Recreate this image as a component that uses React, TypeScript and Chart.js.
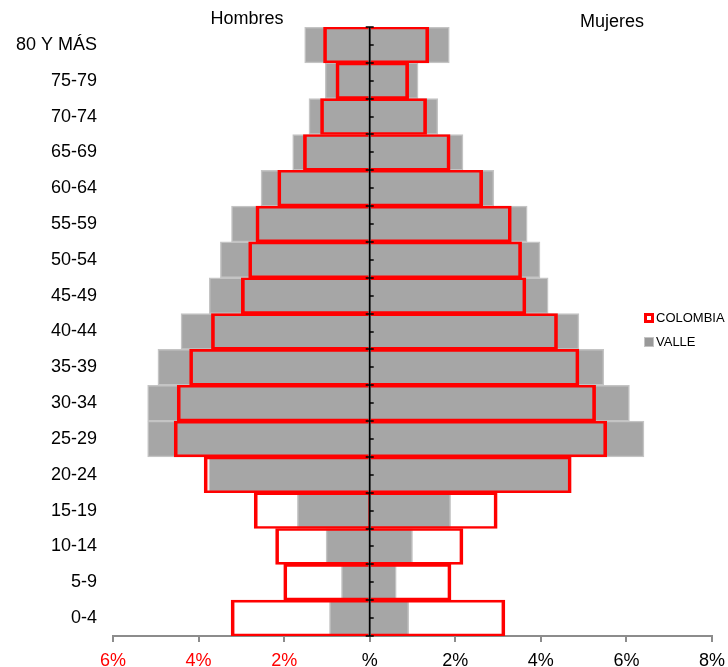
import React, { useEffect, useRef } from "react";
import { Chart, registerables } from "chart.js";

Chart.register(...registerables);

const ageGroups = [
  "80 Y MÁS", "75-79", "70-74", "65-69", "60-64", "55-59", "50-54", "45-49",
  "40-44", "35-39", "30-34", "25-29", "20-24", "15-19", "10-14", "5-9", "0-4",
];
const colombiaHombres = [1.08, 0.79, 1.15, 1.55, 2.15, 2.66, 2.83, 3.0, 3.7, 4.21, 4.5, 4.57, 3.87, 2.7, 2.2, 2.01, 3.24];
const colombiaMujeres = [1.38, 0.91, 1.33, 1.88, 2.64, 3.31, 3.55, 3.65, 4.39, 4.89, 5.28, 5.54, 4.71, 2.98, 2.18, 1.9, 3.16];
const valleHombres = [1.52, 1.04, 1.42, 1.8, 2.54, 3.23, 3.49, 3.75, 4.41, 4.95, 5.19, 5.19, 3.76, 1.69, 1.02, 0.66, 0.94];
const valleMujeres = [1.86, 1.13, 1.59, 2.18, 2.9, 3.68, 3.98, 4.17, 4.89, 5.47, 6.07, 6.41, 4.66, 1.89, 1.0, 0.62, 0.91];
const xTickValues = [-6, -4, -2, 0, 2, 4, 6, 8];
const xTickLabels = ["6%", "4%", "2%", "%", "2%", "4%", "6%", "8%"];
const seriesNames = ["COLOMBIA", "VALLE"];
const sideTitles = ["Hombres", "Mujeres"];

const FONT = "'Liberation Sans', Arial, sans-serif";
const RED = "#ff0000";
const GRAY = "#a6a6a6";
const GRAY_BORDER = "#c4c4c4";

const overlayPlugin = {
  id: "overlay",
  afterDatasetsDraw(chart: any) {
    const { ctx, chartArea, scales } = chart;
    const x = scales.x;
    const y = scales.y;
    const x0 = x.getPixelForValue(0);
    ctx.save();
    ctx.strokeStyle = "#000";
    ctx.lineWidth = 2;
    ctx.beginPath();
    ctx.moveTo(x0, chartArea.top);
    ctx.lineTo(x0, chartArea.bottom);
    ctx.stroke();
    ctx.lineWidth = 1.5;
    for (let i = 0; i <= ageGroups.length; i++) {
      const yb = Math.round(y.getPixelForValue(i - 0.5));
      ctx.beginPath();
      ctx.moveTo(x0 - 4, yb);
      ctx.lineTo(x0 + 4, yb);
      ctx.stroke();
      if (i < ageGroups.length) {
        const yc = Math.round(y.getPixelForValue(i));
        ctx.beginPath();
        ctx.moveTo(x0, yc);
        ctx.lineTo(x0 + 4, yc);
        ctx.stroke();
      }
    }
    ctx.restore();
  },
  afterDraw(chart: any) {
    const { ctx } = chart;
    ctx.save();
    ctx.fillStyle = "#000";
    ctx.font = `18px ${FONT}`;
    ctx.textAlign = "center";
    ctx.textBaseline = "middle";
    ctx.fillText(sideTitles[0], 247, 19);
    ctx.fillText(sideTitles[1], 612, 22);
    // legend
    ctx.fillStyle = RED;
    ctx.fillRect(644, 313, 10, 10);
    ctx.fillStyle = "#fff";
    ctx.fillRect(647, 316, 4, 4);
    ctx.fillStyle = GRAY_BORDER;
    ctx.fillRect(644, 337, 10, 10);
    ctx.fillStyle = "#999";
    ctx.fillRect(645, 338, 8, 8);
    ctx.fillStyle = "#000";
    ctx.font = `13px ${FONT}`;
    ctx.textAlign = "left";
    ctx.fillText(seriesNames[0], 656, 318);
    ctx.fillText(seriesNames[1], 656, 342);
    ctx.restore();
  },
};

export default function App() {
  const canvasRef = useRef<HTMLCanvasElement | null>(null);

  useEffect(() => {
    document.body.style.margin = "0";
    const canvas = canvasRef.current;
    if (!canvas) return;
    const neg = (a: number[]) => a.map((v) => -v);
    const colombiaStyle = {
      backgroundColor: "rgba(0,0,0,0)",
      borderColor: RED,
      borderWidth: { left: 3, right: 3, top: 2, bottom: 2 },
      borderSkipped: "start",
      grouped: false,
      barPercentage: 1,
      categoryPercentage: 1,
    };
    const valleStyle = {
      backgroundColor: GRAY,
      borderColor: GRAY_BORDER,
      borderWidth: 1.5,
      borderSkipped: "start",
      grouped: false,
      barPercentage: 1,
      categoryPercentage: 1,
    };
    const chart = new Chart(canvas, {
      type: "bar",
      data: {
        labels: ageGroups,
        datasets: [
          { label: seriesNames[0], data: neg(colombiaHombres), ...colombiaStyle } as any,
          { label: seriesNames[0], data: colombiaMujeres, ...colombiaStyle } as any,
          { label: seriesNames[1], data: neg(valleHombres), ...valleStyle } as any,
          { label: seriesNames[1], data: valleMujeres, ...valleStyle } as any,
        ],
      },
      options: {
        indexAxis: "y",
        animation: false,
        responsive: true,
        maintainAspectRatio: false,
        events: [],
        layout: { padding: { top: 27, right: 16, left: 0, bottom: 0 } },
        plugins: { legend: { display: false }, tooltip: { enabled: false } },
        scales: {
          x: {
            type: "linear",
            min: -6,
            max: 8,
            afterBuildTicks: (scale: any) => {
              scale.ticks = xTickValues.map((v) => ({ value: v }));
            },
            afterFit: (scale: any) => {
              scale.height = 31;
              scale.paddingLeft = 0;
              scale.paddingRight = 0;
            },
            grid: {
              drawOnChartArea: false,
              tickColor: "#8c8c8c",
              tickLength: 6,
              lineWidth: 2,
            },
            border: { color: "#8c8c8c", width: 2 },
            ticks: {
              autoSkip: false,
              maxRotation: 0,
              padding: 8,
              font: { family: FONT, size: 18 },
              color: (c: any) => (c.tick && c.tick.value < 0 ? RED : "#000"),
              callback: (_v: any, i: number) => xTickLabels[i],
            },
          },
          y: {
            type: "category",
            afterFit: (scale: any) => {
              scale.width = 113;
              scale.paddingTop = 0;
              scale.paddingBottom = 0;
            },
            grid: { display: false, drawTicks: false },
            border: { display: false },
            ticks: {
              padding: 16,
              autoSkip: false,
              color: "#000",
              font: { family: FONT, size: 18 },
            },
          },
        },
      },
      plugins: [overlayPlugin],
    });
    return () => chart.destroy();
  }, []);

  return (
    <div style={{ position: "relative", width: 728, height: 667 }}>
      <canvas ref={canvasRef} />
    </div>
  );
}
